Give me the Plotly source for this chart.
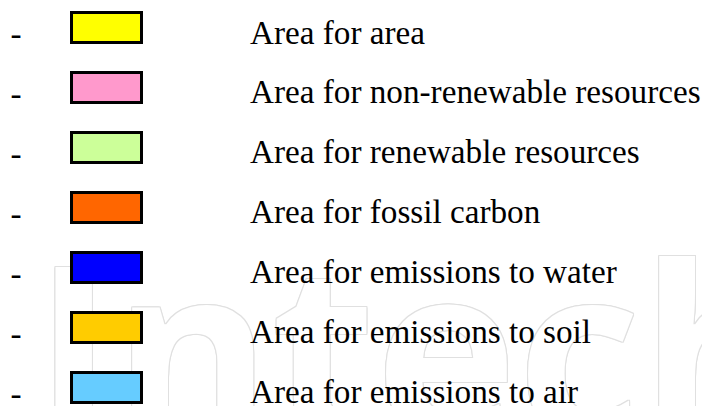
import plotly.graph_objects as go

labels = [
    "Area for area",
    "Area for non-renewable resources",
    "Area for renewable resources",
    "Area for fossil carbon",
    "Area for emissions to water",
    "Area for emissions to soil",
    "Area for emissions to air",
]
colors = ["#FFFF00", "#FF99CC", "#CCFF99", "#FF6600", "#0000FF", "#FFCC00", "#66CCFF"]
rows = list(range(len(labels)))
swatch_len = [70] * len(labels)
dashes = ["-"] * len(labels)
watermark = "IntechOpen"

# page body has an 8px margin: map axes in window pixels
PAGE_MARGIN = 8
WIN_W, WIN_H = 710, 406
ROW_PX = 60.0
TOP_PX = 28.0
yrange = [(WIN_H - TOP_PX) / ROW_PX, (PAGE_MARGIN - TOP_PX) / ROW_PX]
xrange_ = [PAGE_MARGIN, WIN_W]

outline = "#e0e0e0"
shadow = ", ".join(f"{dx}px {dy}px 0 {outline}" for dx, dy in
                   [(1, 0), (-1, 0), (0, 1), (0, -1), (1, 1), (-1, -1), (1, -1), (-1, 1)])

fig = go.Figure()

# faint watermark (bottom layer)
fig.add_trace(go.Scatter(
    x=[34], y=[5.85], mode="text", text=[watermark], textposition="middle right",
    textfont=dict(family="Open Sans", size=240, color="white", weight=700, shadow=shadow),
    hoverinfo="skip", showlegend=False, xaxis="x", yaxis="y", cliponaxis=False,
))

fig.add_trace(go.Bar(
    y=rows, x=swatch_len, base=71.5, orientation="h", width=0.5,
    marker=dict(color=colors, line=dict(color="black", width=3)),
    hoverinfo="skip", showlegend=False, xaxis="x2", yaxis="y2",
))

fig.add_trace(go.Scatter(
    x=[16] * len(rows), y=[r + 0.145 for r in rows], mode="text", text=dashes,
    textposition="middle center",
    textfont=dict(family="Liberation Serif", size=33.2, color="black"),
    hoverinfo="skip", showlegend=False, xaxis="x2", yaxis="y2", cliponaxis=False,
))

fig.add_trace(go.Scatter(
    x=[250] * len(rows), y=[r + 0.12 for r in rows], mode="text", text=labels,
    textposition="middle right",
    textfont=dict(family="Liberation Serif", size=33.2, color="black"),
    hoverinfo="skip", showlegend=False, xaxis="x2", yaxis="y2", cliponaxis=False,
))

ax = dict(visible=False, showgrid=False, zeroline=False, fixedrange=True)
fig.update_layout(
    width=WIN_W - PAGE_MARGIN, height=WIN_H - PAGE_MARGIN, autosize=False,
    margin=dict(l=0, r=0, t=0, b=0, pad=0),
    paper_bgcolor="white", plot_bgcolor="white",
    xaxis=dict(range=xrange_, **ax),
    yaxis=dict(range=yrange, **ax),
    xaxis2=dict(range=xrange_, overlaying="x", **ax),
    yaxis2=dict(range=yrange, overlaying="y", **ax),
    bargap=0,
)
fig.write_html("out.html")
